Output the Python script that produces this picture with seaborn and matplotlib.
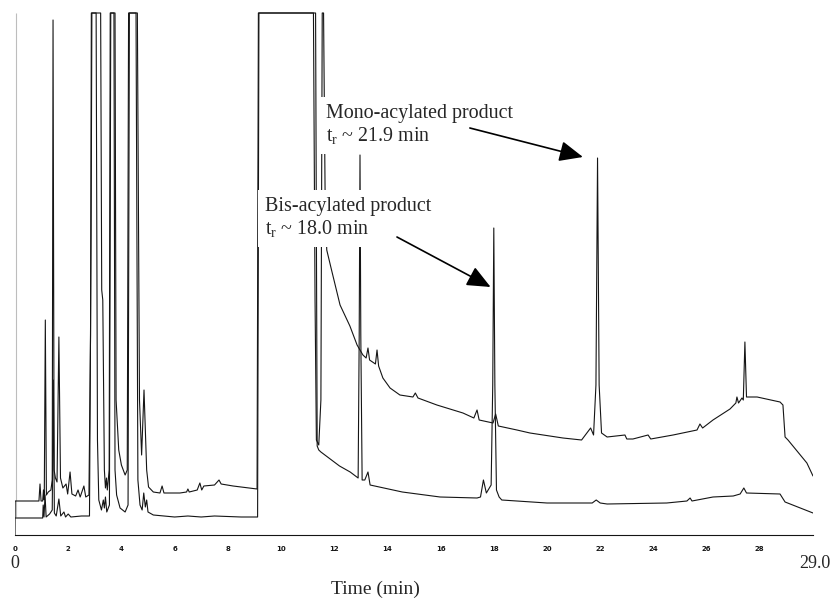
import matplotlib
matplotlib.use("Agg")
import matplotlib.pyplot as plt
from matplotlib.ticker import MultipleLocator, FixedLocator
import numpy as np
import pandas as pd
import seaborn as sns

# Detector saturation level (flat-topped peaks)
SAT = 522

# Retention times stated on the chromatogram (min)
bis_rt = 18.0
mono_rt = 21.9

# Upper trace: time (min) and detector response
trace_a_time = [
    0.00, 0.005, 0.90, 0.94, 0.98, 1.04, 1.07, 1.10, 1.14, 1.18, 1.25, 1.35, 1.40,
    1.43, 1.47, 1.52, 1.58, 1.65, 1.71, 1.80, 1.92, 1.98, 2.07, 2.14, 2.28, 2.37,
    2.45, 2.59, 2.66, 2.78, 2.84, 2.87, 3.22, 3.26, 3.30, 3.36, 3.40, 3.44, 3.47,
    3.50, 3.54, 3.58, 3.76, 3.80, 3.90, 4.00, 4.14, 4.22, 4.27, 4.60, 4.68, 4.76,
    4.85, 4.95, 5.02, 5.20, 5.45, 5.53, 5.60, 6.20, 6.45, 6.50, 6.55, 6.85, 6.95,
    7.02, 7.10, 7.50, 7.67, 7.75, 8.20, 8.80, 9.10, 9.15, 11.22, 11.28, 11.33,
    11.42, 11.50, 11.55, 11.60, 11.66, 11.72, 11.90, 12.22, 12.59, 12.86, 13.08,
    13.20, 13.27, 13.33, 13.55, 13.61, 13.67, 13.83, 14.10, 14.47, 14.96, 15.05,
    15.15, 15.86, 16.84, 17.25, 17.37, 17.45, 17.97, 18.07, 18.17, 18.87, 19.36,
    20.60, 21.30, 21.64, 21.75, 21.84, mono_rt, 21.96, 22.05, 22.26, 22.93, 23.00,
    23.23, 23.80, 23.90, 24.74, 25.64, 25.75, 25.85, 26.24, 26.88, 27.10, 27.14,
    27.20, 27.33, 27.38, 27.44, 27.50, 27.90, 28.76, 28.87, 28.95, 29.06, 29.77,
    30.00,
]
trace_a_signal = [
    0, 34, 34, 51, 34, 34, 45, 35, 215, 40, 43, 45, 55,
    515, 65, 57, 53, 198, 57, 47, 51, 41, 63, 41, 39, 45,
    38, 49, 38, 40, 200, SAT, SAT, 245, 235, 65, 47, 57, 45,
    53, 65, SAT, SAT, 135, 85, 70, 60, 65, SAT, SAT, 135, 80,
    145, 65, 48, 43, 42, 49, 42, 42, 43, 46, 43, 45, 52,
    45, 49, 50, 55, 51, 49, 47, 46, SAT, SAT, 235, 95,
    90, 135, SAT, SAT, 335, 285, 265, 230, 209, 190, 180,
    177, 187, 175, 171, 185, 169, 157, 147, 140, 138, 142,
    137, 130, 122, 117, 125, 115, 112, 121, 109, 105, 102,
    97, 95, 107, 100, 150, 377, 150, 102, 98, 100, 96,
    96, 100, 96, 100, 105, 111, 107, 115, 126, 132, 138,
    132, 137, 135, 193, 138, 138, 133, 130, 98, 95, 72,
    59,
]

# Lower trace: time (min) and detector response
trace_b_time = [
    0.00, 1.04, 1.06, 1.09, 1.13, 1.17, 1.30, 1.40, 1.44, 1.48, 1.55, 1.65, 1.72,
    1.84, 1.90, 2.00, 2.10, 2.50, 2.80, 2.86, 2.89, 3.05, 3.10, 3.15, 3.25, 3.32,
    3.36, 3.40, 3.45, 3.55, 3.60, 3.72, 3.76, 3.82, 3.95, 4.14, 4.25, 4.30, 4.55,
    4.62, 4.70, 4.78, 4.84, 4.90, 4.95, 5.00, 5.20, 6.00, 6.50, 7.00, 7.50, 8.50,
    9.12, 9.17, 11.30, 11.36, 11.42, 11.50, 11.65, 11.80, 12.20, 12.60, 12.90,
    12.94, 12.97, 13.00, 13.05, 13.15, 13.27, 13.35, 14.56, 15.98, 17.37, 17.50,
    17.61, 17.72, 17.90, 17.96, bis_rt, 18.04, 18.10, 18.20, 18.30, 20.00, 21.70,
    21.85, 22.00, 22.26, 24.50, 25.26, 25.38, 25.45, 26.24, 27.00, 27.26, 27.40,
    27.50, 28.76, 28.95, 30.00,
]
trace_b_signal = [
    17, 17, 30, 18, 40, 18, 21, 25, 155, 22, 19, 36, 19,
    23, 18, 21, 18, 19, 19, 300, SAT, SAT, 95, 35, 25, 35,
    27, 38, 23, 30, SAT, SAT, 65, 40, 27, 23, 30, SAT, SAT,
    55, 30, 25, 42, 28, 35, 23, 20, 18, 19, 18, 19, 18,
    18, SAT, SAT, 89, 85, 83, 80, 77, 69, 63, 57,
    200, 380, 200, 55, 55, 63, 50, 43, 38, 37, 38,
    55, 42, 50, 150, 307, 150, 45, 38, 35, 32, 32,
    35, 32, 31, 32, 34, 37, 34, 38, 39, 41, 47,
    42, 41, 33, 22,
]

# Injection marker
injection_time = [0.05]

# Time axis: a mark every minute, labelled every two minutes
tick_values = list(range(0, 30))
tick_labels = [str(v) if v % 2 == 0 else "" for v in tick_values]

df = pd.concat([
    pd.DataFrame({"time": trace_a_time, "signal": trace_a_signal, "trace": "A"}),
    pd.DataFrame({"time": trace_b_time, "signal": trace_b_signal, "trace": "B"}),
], ignore_index=True)

sns.set_style("white")
plt.rcParams["font.family"] = ["Liberation Serif", "DejaVu Serif"]
plt.rcParams["mathtext.fontset"] = "custom"
plt.rcParams["mathtext.rm"] = "Liberation Serif"

fig = plt.figure(figsize=(8.34, 6), dpi=100)
ax = fig.add_axes([15 / 834, 65 / 600, 798 / 834, 523.5 / 600])

ax.vlines(injection_time, 18, SAT, color="#bdbdbd", lw=0.8, zorder=1)

sns.lineplot(data=df, x="time", y="signal", hue="trace",
             palette={"A": "#151515", "B": "#151515"},
             estimator=None, sort=False, legend=False, lw=0.8, ax=ax)

ax.set_xlim(0, 30)
ax.set_ylim(0, 523.5)
ax.set_xlabel("")
ax.set_ylabel("")
ax.set_yticks([])
for side in ("left", "top", "right"):
    ax.spines[side].set_visible(False)
ax.spines["bottom"].set_linewidth(0.8)
ax.spines["bottom"].set_color("#151515")

ax.xaxis.set_major_locator(FixedLocator(tick_values))
ax.set_xticklabels(tick_labels, fontsize=5, fontweight="bold",
                   family=["DejaVu Sans"])
ax.xaxis.set_minor_locator(MultipleLocator(0.2))
ax.tick_params(axis="x", which="major", direction="out", length=6,
               width=0.7, pad=2, colors="#151515")
ax.tick_params(axis="x", which="minor", direction="out", length=3.5,
               width=0.6, colors="#151515")

box = dict(boxstyle="square,pad=0.35", fc="white", ec="none")
ax.text(11.69, 409.5, "Mono-acylated product\nt$_\\mathregular{r}$ ~ 21.9 min",
        fontsize=14.4, ha="left", va="center", linespacing=1.2,
        bbox=box, zorder=5)
ax.text(9.4, 316.5, "Bis-acylated product\nt$_\\mathregular{r}$ ~ 18.0 min",
        fontsize=14.4, ha="left", va="center", linespacing=1.2,
        bbox=box, zorder=5)

arrow = dict(arrowstyle="-|>,head_length=0.8,head_width=0.35", color="black",
             lw=1.2, shrinkA=0, shrinkB=0, mutation_scale=18)
ax.annotate("", xy=(21.35, 378), xytext=(17.1, 407), arrowprops=arrow, zorder=6)
ax.annotate("", xy=(17.88, 248), xytext=(14.36, 298), arrowprops=arrow, zorder=6)

fig.text(15 / 834, 1 - 563 / 600, "0", fontsize=13, ha="center", va="center")
fig.text(830 / 834, 1 - 563 / 600, "29.0", fontsize=13, ha="right", va="center")
fig.text(375 / 834, 1 - 589 / 600, "Time (min)", fontsize=14, ha="center",
         va="center")

fig.savefig("out.png", dpi=100)
